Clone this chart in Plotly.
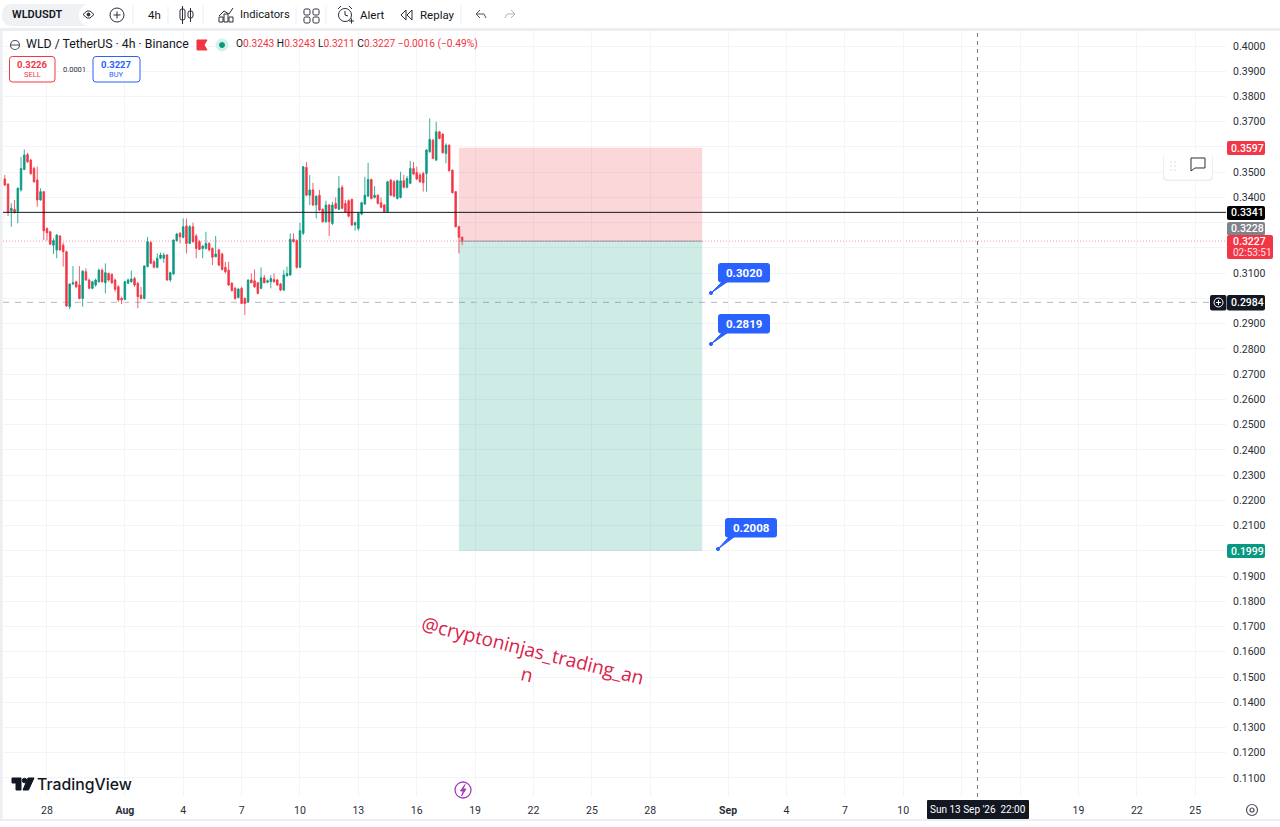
import pandas as pd
import plotly.graph_objects as go

# 4h candles
open_p = [.3463,.3473,.3453,.3346,.3353,.3344,.3430,.3511,.3570,.3548,
          .3515,.3469,.3390,.3423,.3277,.3264,.3211,.3192,.3247,.3211,
          .3185,.2967,.3057,.3066,.3053,.3000,.3106,.3073,.3040,.3053,
          .3066,.3112,.3062,.3099,.3095,.3073,.3046,.3000,.2996,.3060,
          .3066,.3079,.3060,.3013,.3000,.3126,.3222,.3145,.3123,.3159,
          .3159,.3172,.3073,.3097,.3229,.3258,.3242,.3287,.3218,.3284,
          .3247,.3225,.3198,.3198,.3218,.3198,.3165,.3192,.3176,.3123,
          .3112,.3060,.3040,.3004,.3040,.3000,.2987,.3073,.3070,.3062,
          .3040,.3082,.3064,.3066,.3075,.3073,.3057,.3033,.3090,.3093,
          .3234,.3229,.3123,.3258,.3519,.3409,.3430,.3370,.3409,.3353,
          .3304,.3370,.3297,.3376,.3353,.3440,.3376,.3387,.3392,.3291,
          .3277,.3334,.3374,.3405,.3471,.3400,.3409,.3379,.3370,.3343,
          .3469,.3462,.3396,.3400,.3466,.3440,.3456,.3515,.3499,.3489,
          .3495,.3495,.3581,.3627,.3548,.3660,.3651,.3574,.3607,.3508,
          .3423,.3284,.3243]
high_p = [.3485,.3489,.3456,.3377,.3390,.3440,.3561,.3590,.3577,.3553,
          .3522,.3522,.3436,.3425,.3281,.3268,.3238,.3255,.3251,.3221,
          .3189,.3060,.3128,.3070,.3128,.3112,.3119,.3079,.3070,.3079,
          .3118,.3119,.3139,.3102,.3099,.3079,.3053,.3007,.3070,.3079,
          .3110,.3086,.3066,.3046,.3132,.3244,.3226,.3152,.3178,.3181,
          .3181,.3176,.3106,.3234,.3260,.3263,.3317,.3317,.3291,.3300,
          .3255,.3231,.3211,.3264,.3223,.3202,.3247,.3197,.3181,.3145,
          .3145,.3065,.3046,.3042,.3046,.3004,.3075,.3099,.3115,.3066,
          .3123,.3093,.3075,.3093,.3099,.3077,.3062,.3112,.3126,.3258,
          .3258,.3234,.3300,.3524,.3541,.3489,.3458,.3409,.3430,.3357,
          .3387,.3374,.3383,.3400,.3485,.3449,.3390,.3392,.3396,.3304,
          .3341,.3383,.3482,.3537,.3475,.3445,.3413,.3400,.3374,.3466,
          .3473,.3469,.3471,.3502,.3489,.3485,.3545,.3541,.3522,.3498,
          .3502,.3592,.3713,.3631,.3700,.3664,.3654,.3614,.3611,.3511,
          .3425,.3288,.3243]
low_p = [.3459,.3445,.3326,.3284,.3337,.3298,.3423,.3508,.3537,.3489,
         .3458,.3363,.3387,.3231,.3229,.3211,.3176,.3159,.3189,.3126,
         .2967,.2957,.3053,.3040,.2996,.2967,.3070,.3036,.3036,.3046,
         .3062,.3062,.3020,.3066,.3057,.3027,.2987,.2978,.2994,.3057,
         .3062,.3046,.2961,.2996,.2996,.3123,.3136,.3119,.3119,.3155,
         .3141,.3069,.3066,.3093,.3225,.3218,.3238,.3178,.3215,.3221,
         .3159,.3192,.3159,.3194,.3186,.3132,.3163,.3128,.3110,.3099,
         .3049,.3027,.2994,.3000,.2978,.2934,.2983,.3060,.3042,.3016,
         .3036,.3060,.3060,.3040,.3062,.3049,.3029,.3029,.3086,.3089,
         .3221,.3118,.3120,.3251,.3405,.3370,.3366,.3317,.3346,.3300,
         .3300,.3247,.3291,.3353,.3350,.3353,.3339,.3321,.3287,.3268,
         .3268,.3330,.3370,.3403,.3392,.3396,.3372,.3357,.3339,.3339,
         .3405,.3400,.3392,.3396,.3436,.3436,.3452,.3489,.3469,.3458,
         .3423,.3423,.3577,.3551,.3544,.3630,.3574,.3535,.3502,.3416,
         .3281,.3178,.3211]
close_p = [.3476,.3449,.3340,.3357,.3340,.3436,.3515,.3568,.3541,.3495,
           .3462,.3390,.3423,.3268,.3260,.3215,.3229,.3251,.3192,.3185,
           .2970,.3057,.3062,.3046,.3000,.3108,.3073,.3040,.3066,.3073,
           .3112,.3066,.3102,.3073,.3062,.3036,.2994,.2994,.3066,.3073,
           .3077,.3053,.3007,.3000,.3128,.3225,.3139,.3123,.3159,.3172,
           .3172,.3073,.3102,.3231,.3255,.3244,.3284,.3218,.3284,.3225,
           .3198,.3194,.3207,.3218,.3192,.3163,.3176,.3132,.3115,.3106,
           .3053,.3031,.3000,.3037,.2980,.2980,.3073,.3062,.3046,.3020,
           .3082,.3062,.3070,.3079,.3066,.3053,.3033,.3093,.3099,.3234,
           .3225,.3123,.3268,.3522,.3409,.3430,.3370,.3405,.3350,.3304,
           .3370,.3304,.3370,.3357,.3436,.3357,.3343,.3326,.3291,.3300,
           .3337,.3379,.3409,.3471,.3396,.3409,.3376,.3361,.3343,.3462,
           .3409,.3405,.3466,.3466,.3440,.3475,.3515,.3493,.3473,.3462,
           .3458,.3588,.3630,.3555,.3660,.3634,.3577,.3607,.3506,.3419,
           .3284,.3242,.3227]

x_ticks = ["2026-07-28","2026-08-01","2026-08-04","2026-08-07","2026-08-10","2026-08-13",
           "2026-08-16","2026-08-19","2026-08-22","2026-08-25","2026-08-28","2026-09-01",
           "2026-09-04","2026-09-07","2026-09-10","2026-09-13","2026-09-16","2026-09-19",
           "2026-09-22","2026-09-25"]
# 13 and 16 sit under the crosshair tag
x_labels = ["28","<b>Aug</b>","4","7","10","13","16","19","22","25","28","<b>Sep</b>",
            "4","7","10","","","19","22","25"]
y_ticks = [round(0.11+i*0.01,2) for i in range(30)]
# labels that the price badges cover stay blank
covered = [0.20, 0.30, 0.32, 0.33, 0.36]
y_labels = ["" if v in covered else "%.4f" % v for v in y_ticks]

entry = 0.3227
stop = 0.3597
target = 0.1999
black_line = 0.3341
dash_line = 0.2984
box_start = "2026-08-18 04:00"
box_end = "2026-08-30 16:00"
cross_time = "2026-09-13 19:30"

L, R, T, B = 3, 54, 31, 30
W, H = 1280, 827
FONT = "Roboto"
INK = "#131722"
RED = "#f23645"
GREEN = "#089981"
BLUE = "#2962ff"

def px(x):
    return (x-L)/(W-L-R)
def py(y):
    return 1-(y-T)/(H-T-B)

shapes = []
notes = []

def note(x, y, text, size=11, color=INK, anchor="center", weight=None, angle=0, font=FONT):
    f = dict(size=size, color=color, family=font)
    if weight:
        f["weight"] = weight
    notes.append(dict(x=px(x), y=py(y), xref="paper", yref="paper", text=text, showarrow=False,
                      xanchor=anchor, yanchor="middle", font=f, textangle=angle,
                      borderpad=0, borderwidth=0))

def box(x0, y0, x1, y1, fill, line=None, lw=1):
    shapes.append(dict(type="rect", xref="paper", yref="paper", x0=px(x0), x1=px(x1), y0=py(y0), y1=py(y1),
                       fillcolor=fill, line=dict(color=line or fill, width=lw if line else 0), layer="above"))

def rbox(x0, y0, x1, y1, r, fill, line=None, lw=1):
    p = ("M %f %f L %f %f Q %f %f %f %f L %f %f Q %f %f %f %f L %f %f Q %f %f %f %f L %f %f Q %f %f %f %f Z" % (
        px(x0+r), py(y0), px(x1-r), py(y0), px(x1), py(y0), px(x1), py(y0+r),
        px(x1), py(y1-r), px(x1), py(y1), px(x1-r), py(y1),
        px(x0+r), py(y1), px(x0), py(y1), px(x0), py(y1-r),
        px(x0), py(y0+r), px(x0), py(y0), px(x0+r), py(y0)))
    shapes.append(dict(type="path", xref="paper", yref="paper", path=p, fillcolor=fill,
                       line=dict(color=line or fill, width=lw if line else 0), layer="above"))

def poly(points, color=INK, lw=1, fill=None, closed=False):
    p = "M " + " L ".join("%f %f" % (px(a), py(b)) for a, b in points)
    if closed:
        p += " Z"
    shapes.append(dict(type="path", xref="paper", yref="paper", path=p, fillcolor=fill or "rgba(0,0,0,0)",
                       line=dict(color=color, width=lw), layer="above"))

def circle(cx, cy, r, line=INK, fill="rgba(0,0,0,0)", lw=1):
    shapes.append(dict(type="circle", xref="paper", yref="paper", x0=px(cx-r), x1=px(cx+r), y0=py(cy-r), y1=py(cy+r),
                       fillcolor=fill, line=dict(color=line, width=lw), layer="above"))

dates = pd.date_range(end="2026-08-18 08:00", periods=len(close_p), freq="4h")

fig = go.Figure()
fig.add_trace(go.Candlestick(
    x=dates, open=open_p, high=high_p, low=low_p, close=close_p, showlegend=False,
    increasing=dict(line=dict(color=GREEN, width=0.8), fillcolor=GREEN),
    decreasing=dict(line=dict(color=RED, width=0.8), fillcolor=RED),
    whiskerwidth=0,
))

# long position box
shapes.append(dict(type="rect", xref="x", yref="y", x0=box_start, x1=box_end, y0=entry, y1=stop,
                   fillcolor="rgba(242,54,69,0.2)", line_width=0, layer="between"))
shapes.append(dict(type="rect", xref="x", yref="y", x0=box_start, x1=box_end, y0=target, y1=entry,
                   fillcolor="rgba(8,153,129,0.2)", line_width=0, layer="between"))
# price lines
shapes.append(dict(type="line", xref="paper", yref="y", x0=0, x1=1, y0=entry, y1=entry,
                   line=dict(color="rgba(242,54,69,0.65)", width=0.8, dash="1px,2px"), layer="between"))
shapes.append(dict(type="line", xref="x", yref="y", x0=box_start, x1=box_end, y0=entry, y1=entry,
                   line=dict(color="#9598a1", width=1), layer="above"))
shapes.append(dict(type="line", xref="paper", yref="y", x0=0, x1=1, y0=black_line, y1=black_line,
                   line=dict(color="#131722", width=1), layer="above"))
shapes.append(dict(type="line", xref="paper", yref="y", x0=0, x1=1, y0=dash_line, y1=dash_line,
                   line=dict(color="#c4c6cc", width=1.2, dash="6px,6px"), layer="between"))
shapes.append(dict(type="line", xref="x", yref="paper", x0=cross_time, x1=cross_time, y0=0, y1=1,
                   line=dict(color="#787b86", width=1, dash="4px,4px"), layer="above"))

# window frame
box(0, 28, 1280, 31, "#eceef2")
box(0, 28, 2.5, 820, "#eceef2")
box(0, 819, 1280, 821, "#eceef2")

# top toolbar
rbox(2, 4, 97, 26, 11, "#eff1f5")
circle(90, 15, 11, line="#ffffff", fill="#ffffff")
note(12, 15, "WLDUSDT", 11, INK, "left", 600)
poly([(83,14.5),(87,11),(90,11),(94,14.5),(90,18),(87,18)], "#2a2e39", 1, closed=True)
circle(88.5, 14.5, 1.5, "#2a2e39", "#2a2e39")
circle(117, 15, 7, "#2a2e39")
poly([(113.5,15),(120.5,15)], "#2a2e39")
poly([(117,11.5),(117,18.5)], "#2a2e39")
note(154, 15, "4h", 11.5)
rbox(180, 9, 185, 20, 2, "#ffffff", "#2a2e39")
poly([(182.5,6),(182.5,24)], "#2a2e39")
rbox(188, 11, 193, 18, 2, "#ffffff", "#2a2e39")
poly([(190.5,8),(190.5,22)], "#2a2e39")
poly([(219,16),(224,11),(229,14),(233,8)], "#2a2e39")
for a, b in [(219,17),(224,14),(229,17)]:
    box(a, b, a+4, 22, "#ffffff", "#2a2e39")
note(240, 15, "Indicators", 11.2, anchor="left")
for a in (304, 313):
    for b in (9, 17):
        rbox(a, b, a+6, b+6, 1.5, "#ffffff", "#2a2e39")
circle(345, 15, 6.5, "#2a2e39")
poly([(345,11),(345,15),(348,16)], "#2a2e39")
poly([(338,9),(341,6)], "#2a2e39")
poly([(349,6),(352,9)], "#2a2e39")
poly([(349,21),(354,21)], "#2a2e39")
poly([(351.5,18.5),(351.5,23.5)], "#2a2e39")
note(360, 15, "Alert", 11.5, anchor="left")
poly([(406,10),(401,15),(406,20)], "#2a2e39", closed=True)
poly([(412,10),(407,15),(412,20)], "#2a2e39", closed=True)
note(420, 15, "Replay", 11.5, anchor="left")
poly([(480,10),(476,14),(480,18)], "#50535e")
poly([(476,14),(484,14),(486,18)], "#50535e")
poly([(511,10),(515,14),(511,18)], "#b2b5be")
poly([(515,14),(507,14),(505,18)], "#b2b5be")
for a in (133, 168, 203, 296, 326, 461):
    poly([(a,6),(a,24)], "#eceef2")

# legend row
circle(15, 45, 4.5, "#50535e", "#ffffff", 1.2)
poly([(10.5,45),(19.5,45)], "#50535e")
note(26, 44.5, "WLD / TetherUS · 4h · Binance", 12.3, anchor="left")
poly([(197,40),(207,40),(204,45),(207,50),(197,50)], RED, 1, RED, True)
circle(222, 45, 6, "#d5f0ec", "#d5f0ec")
circle(222, 45, 2.5, GREEN, GREEN)
red_vals = ["0.3243","0.3243","0.3211","0.3227"]
heads = ["O","H","L","C"]
ohlc = " ".join("%s<span style='color:%s'>%s</span>" % (h, RED, v) for h, v in zip(heads, red_vals))
note(236, 44.5, ohlc + "<span style='color:%s'> −0.0016 (−0.49%%)</span>" % RED, 10.2, anchor="left")

rbox(9.5, 56.5, 55, 82, 3, "#ffffff", RED)
note(32, 64, "<b>0.3226</b>", 9.5, RED)
note(32, 75, "SELL", 7.5, RED)
note(74, 69, "0.0001", 7.5, "#2a2e39")
rbox(93, 56.5, 140, 82, 3, "#ffffff", BLUE)
note(116, 64, "<b>0.3227</b>", 9.5, BLUE)
note(116, 75, "BUY", 7.5, BLUE)

# blue callouts, drawn from pixel spots on top of the chart
for (lx, ly, tipx, tipy, txt) in [(718,263,711,293,"0.3020"),(718,314,711,344,"0.2819"),(725,518,718,549,"0.2008")]:
    poly([(tipx,tipy),(lx+4,ly+19),(lx+9,ly+19)], BLUE, 1, BLUE, True)
    rbox(lx, ly, lx+52, ly+19.5, 3, BLUE)
    circle(tipx, tipy, 1.6, BLUE, BLUE)
    note(lx+26, ly+9.5, "<b>%s</b>" % txt, 11.5, "#ffffff")

# floating drawing tool
rbox(1163, 153, 1213, 181, 5, "#eceef1")
rbox(1164, 152, 1212, 179.5, 5, "#ffffff")
for a in (1171, 1175):
    for b in (162, 166, 170):
        box(a-0.6, b-0.6, a+0.6, b+0.6, "#c4c6cc")
poly([(1191,158),(1205,158),(1205,168),(1195,168),(1191,171)], "#2a2e39", 1, closed=True)

# badges on the price axis
def badge(y0, y1, txt, fill, x1=1265):
    rbox(1227, y0, x1, y1, 2, fill)
    note(1247, (y0+y1)/2, txt, 10.5, "#ffffff", weight=500)

badge(141, 155, "0.3597", RED)
badge(206, 220, "0.3341", "#000000")
badge(222, 235.5, "0.3228", "#808389")
rbox(1227, 235, 1273, 259, 2, RED)
note(1233, 241.5, "0.3227", 10.5, "#ffffff", "left", 500)
note(1233, 252.5, "02:53:51", 10, "#ffe4e6", "left")
rbox(1210, 295, 1226.5, 310.5, 2, "#131722")
circle(1218.5, 302.5, 4.5, "#ffffff")
poly([(1216,302.5),(1221,302.5)], "#ffffff")
poly([(1218.5,300),(1218.5,305)], "#ffffff")
badge(295, 310.5, "0.2984", "#131722")
badge(544, 558, "0.1999", GREEN)

# time axis crosshair tag
rbox(927, 800, 1029, 819, 1, "#131722")
note(978, 809.5, "Sun 13 Sep '26  22:00", 10, "#ffffff")

# watermark
note(530, 662, "@cryptoninjas_trading_an<br>n", 19, "#d8234a", angle=14, font="Open Sans", weight=500)

# TradingView mark
poly([(12,778),(21,778),(21,790),(16,790),(16,783),(12,783)], "#131722", 1, "#131722", True)
circle(24.5, 780.5, 2.2, "#131722", "#131722")
poly([(28,778),(34,778),(28.5,790),(23,790)], "#131722", 1, "#131722", True)
note(37, 784, "TradingView", 15.8, "#131722", "left", 500, font="Inter")

# lightning marker and settings button
circle(463, 790, 8, "#a23cc4", "#ffffff", 1.3)
poly([(465,784.5),(460.5,791),(463.5,791),(461.5,796),(466,789),(463,789)], "#a23cc4", 1, "#a23cc4", True)
circle(1252, 810, 5.5, "#50535e", "#ffffff", 1.2)
circle(1252, 810, 2, "#50535e", "#ffffff", 1.2)

fig.update_layout(
    width=W, height=H, autosize=False, margin=dict(l=L, r=R, t=T, b=B),
    paper_bgcolor="#ffffff", plot_bgcolor="#ffffff",
    font=dict(family=FONT, size=10.5, color=INK),
    shapes=shapes, annotations=notes, showlegend=False,
    xaxis=dict(type="date", range=["2026-07-25 17:45", "2026-09-26 14:00"], rangeslider_visible=False,
               tickmode="array", tickvals=x_ticks, ticktext=x_labels, tickangle=0,
               showgrid=True, gridcolor="#f3f4f7", gridwidth=1, zeroline=False, showline=False,
               ticks="outside", ticklen=3, tickcolor="rgba(0,0,0,0)", tickfont=dict(size=10.5, color="#2a2e39")),
    yaxis=dict(side="right", range=[0.10246, 0.40595], tickmode="array", tickvals=y_ticks, ticktext=y_labels,
               showgrid=True, gridcolor="#f3f4f7", gridwidth=1, zeroline=False, showline=False,
               ticks="outside", ticklen=4, tickcolor="rgba(0,0,0,0)", tickfont=dict(size=10.5, color="#2a2e39")),
)

fig.write_html("out.html", config=dict(displayModeBar=False, responsive=False),
               post_script="document.body.style.margin='0';document.documentElement.style.overflow='hidden';")
